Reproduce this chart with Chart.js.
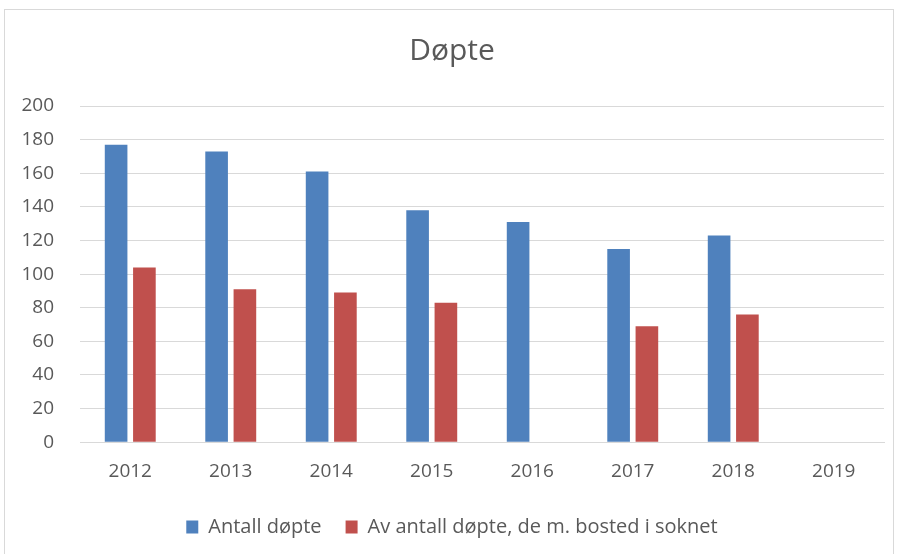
<!DOCTYPE html>
<html>
<head>
<meta charset="utf-8">
<script src="https://cdn.jsdelivr.net/npm/chart.js@4"></script>
<style>
  html, body { margin: 0; padding: 0; background: #fff; }
  #wrap { position: relative; width: 899px; height: 554px; overflow: hidden; }
  #frame { position: absolute; left: 4px; top: 9px; width: 888px; height: 560px; border: 1px solid #d9d9d9; }
  canvas { position: absolute; left: 0; top: 0; }
</style>
</head>
<body>
<div id="wrap">
  <div id="frame"></div>
  <canvas id="chart" width="899" height="554"></canvas>
</div>
<script>
// Døpte per år
const years = ['2012', '2013', '2014', '2015', '2016', '2017', '2018', '2019'];
const antallDopte = [177, 173, 161, 138, 131, 115, 123, null];
const bostedSoknet = [104, 91, 89, 83, null, 69, 76, null];
const yTicks = [0, 20, 40, 60, 80, 100, 120, 140, 160, 180, 200];

const FONT = "'Open Sans', sans-serif";
const TXT = '#595959';
const GRID = '#d9d9d9';

new Chart(document.getElementById('chart'), {
  type: 'bar',
  data: {
    labels: years,
    datasets: [
      {
        label: 'Antall døpte',
        data: antallDopte,
        backgroundColor: '#4f81bd',
        categoryPercentage: 0.563,
        barPercentage: 0.8,
      },
      {
        label: 'Av antall døpte, de m. bosted i soknet',
        data: bostedSoknet,
        backgroundColor: '#c0504d',
        categoryPercentage: 0.563,
        barPercentage: 0.8,
      },
    ],
  },
  options: {
    responsive: false,
    animation: false,
    layout: { padding: { left: 20, right: 15, top: 0, bottom: 7 } },
    plugins: {
      title: {
        display: true,
        text: 'Døpte',
        color: TXT,
        font: { family: FONT, size: 30, weight: 'normal' },
        padding: { top: 33, bottom: 37 },
      },
      legend: {
        position: 'bottom',
        labels: {
          color: TXT,
          font: { family: FONT, size: 20 },
          boxWidth: 12,
          boxHeight: 13,
          padding: 24,
        },
      },
      tooltip: { enabled: false },
    },
    scales: {
      x: {
        grid: { display: false },
        border: { color: GRID },
        ticks: { color: TXT, font: { family: FONT, size: 19 }, padding: 10 },
      },
      y: {
        min: 0,
        max: 200,
        afterBuildTicks: (axis) => { axis.ticks = yTicks.map(v => ({ value: v })); },
        afterFit: (axis) => { axis.width = 60; },
        grid: { color: GRID, lineWidth: 1, drawTicks: false },
        border: { display: false },
        ticks: { color: TXT, font: { family: FONT, size: 19 }, padding: 26 },
      },
    },
  },
});
</script>
</body>
</html>
